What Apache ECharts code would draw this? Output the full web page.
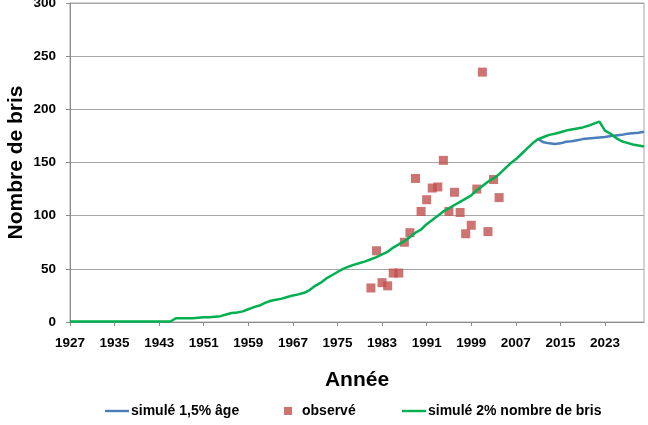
<!DOCTYPE html>
<html>
<head>
<meta charset="utf-8">
<script src="https://cdn.jsdelivr.net/npm/echarts@6/dist/echarts.min.js"></script>
<style>
html, body { margin: 0; padding: 0; background: #fff; }
#chart { width: 648px; height: 425px; }
</style>
</head>
<body>
<div id="chart"></div>
<script>
// années 1927 - 2030
var years = [];
for (var y = 1927; y <= 2030; y++) { years.push(String(y)); }

// simulé 2% nombre de bris (1927 -> 2030)
var simule2 = [
    0.5, 0.5, 0.5,                                         // 1927-1929
    0.5, 0.5, 0.5, 0.5, 0.5, 0.5, 0.5, 0.5, 0.5, 0.5,      // 1930-1939
    0.5, 0.5, 0.5, 0.5, 0.5, 0.5, 3.5, 3.5, 3.5, 3.5,      // 1940-1949
    4, 4.5, 4.5, 5, 5.5, 7, 8.5, 9, 10, 12,                // 1950-1959
    14, 15.5, 18, 20, 21, 22, 23.5, 25, 26, 27.5,          // 1960-1969
    30, 34, 37, 41, 44, 47, 50, 52, 54, 55.5,              // 1970-1979
    57, 59, 61, 63.5, 66, 70, 73, 76, 80, 84,              // 1980-1989
    87, 92, 96, 100, 104, 107, 110, 113, 116, 119,         // 1990-1999
    124, 128, 132, 135, 139, 144, 149, 153, 158, 163,      // 2000-2009
    168, 172, 174, 176, 177, 178.5, 180, 181, 182, 183,    // 2010-2019
    184.5, 186.5, 188.5, 180, 177, 173, 170, 168.5, 167, 166, // 2020-2029
    165                                                    // 2030
];

// simulé 1,5% âge (se sépare à partir de 2011)
var simule15 = [];
for (var i = 0; i < 84; i++) { simule15.push(null); }      // 1927-2010
simule15 = simule15.concat([
    172, 169, 168, 167.5, 168, 169.5, 170, 171, 172,       // 2011-2019
    172.5, 173, 173.5, 174, 175, 175.5, 176, 177, 177.5, 178, // 2020-2029
    179                                                    // 2030
]);

// observé
var obsYears = ['1981', '1982', '1983', '1984', '1985', '1986', '1987', '1988', '1989', '1990',
    '1991', '1992', '1993', '1994', '1995', '1996', '1997', '1998', '1999', '2000',
    '2001', '2002', '2003', '2004'];
var obsValues = [32, 67, 37, 34, 46, 46, 75, 84, 135, 104,
    115, 126, 127, 152, 104, 122, 103, 83, 91, 125,
    235, 85, 134, 117];

var observe = obsYears.map(function (yr, k) { return [yr, obsValues[k]]; });

var fontFamily = '"Liberation Sans", Arial, sans-serif';
var lineIcon = 'path://M0,0h30v3h-30z';
var squareIcon = 'path://M0,0h8v8h-8z';

function legendItem(name, icon, left, color) {
    return {
        left: left,
        top: 404,
        itemWidth: 24,
        itemHeight: 8,
        itemGap: 0,
        padding: 0,
        selectedMode: false,
        data: [{ name: name, icon: icon, itemStyle: { color: color } }],
        textStyle: { fontFamily: fontFamily, fontSize: 14, fontWeight: 'bold', color: '#000', padding: [0, 0, 0, -3] }
    };
}

var chart = echarts.init(document.getElementById('chart'));
chart.setOption({
    animation: false,
    textStyle: { fontFamily: fontFamily },
    grid: {
        left: 70,
        right: 4,
        top: 3,
        bottom: 103,
        outerBoundsMode: 'none',
        containLabel: false,
        show: true,
        borderColor: '#a6a6a6',
        borderWidth: 1
    },
    legend: [
        legendItem('simulé 1,5% âge', lineIcon, 105, '#4a7ebb'),
        legendItem('observé', squareIcon, 284, '#c0504d'),
        legendItem('simulé 2% nombre de bris', lineIcon, 402, '#00b050')
    ],
    xAxis: {
        type: 'category',
        data: years,
        boundaryGap: false,
        name: 'Année',
        nameLocation: 'middle',
        nameGap: 48,
        nameTextStyle: { fontFamily: fontFamily, fontSize: 21, fontWeight: 'bold', color: '#000' },
        axisLine: { lineStyle: { color: '#8c8c8c' } },
        axisTick: { interval: 7, length: 4, lineStyle: { color: '#8c8c8c' } },
        axisLabel: {
            interval: 7,
            hideOverlap: false,
            margin: 14,
            fontFamily: fontFamily,
            fontSize: 13.5,
            fontWeight: 'bold',
            color: '#000'
        },
        splitLine: { show: false }
    },
    yAxis: {
        type: 'value',
        min: 0,
        max: 300,
        interval: 50,
        name: 'Nombre de bris',
        nameLocation: 'middle',
        nameRotate: 90,
        nameGap: 43,
        nameMoveOverlap: false,
        nameTextStyle: { fontFamily: fontFamily, fontSize: 21, fontWeight: 'bold', color: '#000' },
        axisLine: { show: true, lineStyle: { color: '#8c8c8c' } },
        axisTick: { show: true, length: 4, lineStyle: { color: '#8c8c8c' } },
        axisLabel: {
            margin: 14,
            fontFamily: fontFamily,
            fontSize: 13.5,
            fontWeight: 'bold',
            color: '#000'
        },
        splitLine: { lineStyle: { color: '#a6a6a6' } }
    },
    series: [
        {
            name: 'simulé 1,5% âge',
            type: 'line',
            data: simule15,
            showSymbol: false,
            symbol: 'none',
            color: '#4a7ebb',
            lineStyle: { width: 2.5, color: '#4a7ebb' }
        },
        {
            name: 'observé',
            type: 'scatter',
            data: observe,
            symbol: 'rect',
            symbolSize: 9,
            itemStyle: { color: '#c0504d' }
        },
        {
            name: 'simulé 2% nombre de bris',
            type: 'line',
            data: simule2,
            showSymbol: false,
            symbol: 'none',
            color: '#00b050',
            lineStyle: { width: 2.5, color: '#00b050' }
        }
    ]
});
</script>
</body>
</html>
